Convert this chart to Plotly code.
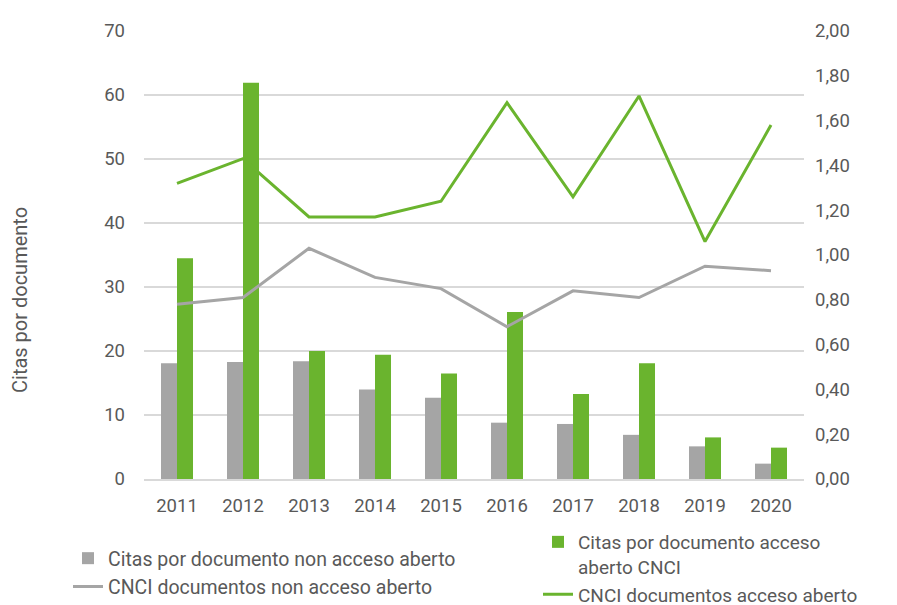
import plotly.graph_objects as go

years = ["2011", "2012", "2013", "2014", "2015", "2016", "2017", "2018", "2019", "2020"]
citas_non_oa = [18.1, 18.3, 18.4, 14.0, 12.7, 8.8, 8.6, 6.9, 5.1, 2.4]
citas_oa = [34.5, 61.9, 20.0, 19.4, 16.5, 26.1, 13.3, 18.1, 6.5, 4.9]
cnci_non_oa = [0.78, 0.81, 1.03, 0.90, 0.85, 0.68, 0.84, 0.81, 0.95, 0.93]
cnci_oa = [1.32, 1.43, 1.17, 1.17, 1.24, 1.68, 1.26, 1.71, 1.06, 1.58]
left_ticks = [0, 10, 20, 30, 40, 50, 60, 70]
right_ticks = [0.0, 0.2, 0.4, 0.6, 0.8, 1.0, 1.2, 1.4, 1.6, 1.8, 2.0]
right_labels = [f"{v:.2f}".replace(".", ",") for v in right_ticks]

GRAY = "#A5A5A5"
GREEN = "#6AB42E"
TXT = "#595959"
FONT = "Roboto"

# page body has an 8px margin: figure coordinates = reference coordinates - 8
W, H = 897, 605
PL, PR, PT, PB = 136, 796, 23, 471
PW = PR - PL


def px_x(x):
    return (x - PL) / PW


fig = go.Figure()
fig.add_trace(go.Bar(x=years, y=citas_non_oa, name="Citas por documento non acceso aberto",
                     marker=dict(color=GRAY, line=dict(width=0)), legend="legend"))
fig.add_trace(go.Bar(x=years, y=citas_oa, name="Citas por documento acceso<br>aberto CNCI",
                     marker=dict(color=GREEN, line=dict(width=0)), legend="legend2"))
fig.add_trace(go.Scatter(x=years, y=cnci_non_oa, name="CNCI documentos non acceso aberto",
                         mode="lines", line=dict(color=GRAY, width=3), yaxis="y2", legend="legend"))
fig.add_trace(go.Scatter(x=years, y=cnci_oa, name="CNCI documentos acceso aberto",
                         mode="lines", line=dict(color=GREEN, width=3), yaxis="y2", legend="legend2"))

fig.update_layout(
    width=W, height=H,
    margin=dict(l=PL, r=W - PR, t=PT, b=H - PB, autoexpand=False),
    paper_bgcolor="white", plot_bgcolor="white",
    font=dict(family=FONT, color=TXT, size=18),
    barmode="group", bargap=0.515, bargroupgap=0,
    xaxis=dict(type="category", showgrid=False, showline=True, linecolor="#D9D9D9", linewidth=1.5,
               ticks="", tickfont=dict(size=18.5, color=TXT), ticklabelstandoff=9, automargin=False),
    yaxis=dict(range=[0, 70], tickvals=left_ticks, showgrid=True, gridcolor="#D9D9D9", gridwidth=1.5,
               zeroline=False, ticks="", tickfont=dict(size=18.5, color=TXT), ticklabelstandoff=18,
               automargin=False),
    yaxis2=dict(range=[0, 2], overlaying="y", side="right", tickvals=right_ticks, ticktext=right_labels,
                showgrid=False, zeroline=False, ticks="", tickfont=dict(size=18.5, color=TXT),
                ticklabelstandoff=10, automargin=False),
    legend=dict(x=px_x(60), y=1 - 531 / H, xref="paper", yref="container", xanchor="left", yanchor="top",
                orientation="v", font=dict(size=19.5, color=TXT), tracegroupgap=0, itemwidth=30,
                bgcolor="rgba(0,0,0,0)"),
    legend2=dict(x=px_x(530), y=1 - 515 / H, xref="paper", yref="container", xanchor="left", yanchor="top",
                 orientation="v", font=dict(size=19, color=TXT), tracegroupgap=0, itemwidth=30,
                 valign="top", bgcolor="rgba(0,0,0,0)"),
    annotations=[dict(text="Citas por documento", xref="paper", yref="paper", x=px_x(12),
                      y=(PB - 292) / (PB - PT), textangle=-90, showarrow=False, xanchor="center",
                      yanchor="middle", font=dict(size=20, color=TXT))],
)

fig.write_html("out.html")
